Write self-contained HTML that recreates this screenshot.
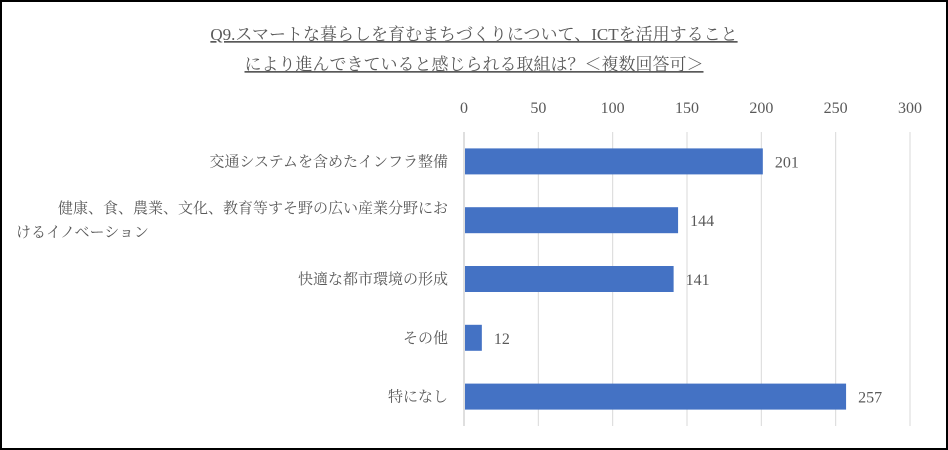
<!DOCTYPE html>
<html><head><meta charset="utf-8"><style>
body{margin:0;background:#fff}
#wrap{position:relative;width:944px;height:446px;border:2px solid #000;overflow:hidden}
svg text{font-family:"Liberation Serif","Noto Serif CJK SC",serif;fill:#595959}
</style></head><body>
<div id="wrap">
<svg id="c" width="944" height="446">
<text x="472" y="38" font-size="17" text-anchor="middle" text-decoration="underline">Q9.スマートな暮らしを育むまちづくりについて、ICTを活用すること</text>
<text x="472" y="68" font-size="17" text-anchor="middle" text-decoration="underline">により進んできていると感じられる取組は？＜複数回答可＞</text>
</svg></div>
<script>
const categories=[["交通システムを含めたインフラ整備"],["健康、食、農業、文化、教育等すそ野の広い産業分野にお","けるイノベーション"],["快適な都市環境の形成"],["その他"],["特になし"]];
const values=[201,144,141,12,257];
const ticks=[0,50,100,150,200,250,300];
const svg=document.getElementById('c');const NS='http://www.w3.org/2000/svg';
const x0=462,x1=908,yTop=130,yBot=424;
const xs=v=>x0+(v-300*0)/300*(x1-x0);
const band=(yBot-yTop)/categories.length;
function mk(t,a){const e=document.createElementNS(NS,t);for(const k in a)e.setAttribute(k,a[k]);svg.appendChild(e);return e;}
ticks.forEach(t=>{
 const g=mk('line',{x1:xs(t),x2:xs(t),y1:yTop,y2:yBot,stroke:'#d9d9d9','stroke-width':1});
 
 
 const l=mk('text',{x:xs(t),y:111,'font-size':16,'text-anchor':'middle'});l.textContent=t;
 
 
});
const ax=mk('line',{x1:x0,x2:x0,y1:yTop,y2:yBot,stroke:'#bfbfbf','stroke-width':1});


values.forEach((v,i)=>{
 const cy=yTop+band*(i+0.5);
 const r=mk('rect',{x:x0+1,y:cy-13,width:xs(v)-x0-1,height:26,fill:'#4472C4'});
 
 
 const vl=mk('text',{x:xs(v)+12,y:cy+6,'font-size':16});vl.textContent=v;
 
 
 const lines=categories[i];
 lines.forEach((s,j)=>{
  const t=mk('text',{x:446,y:cy+5+(j-(lines.length-1)/2)*24,'font-size':15,'text-anchor':'end'});
  if(j>0){t.setAttribute('text-anchor','start');t.setAttribute('x',14);}
  t.textContent=s;
  
  
 });
});
</script></body></html>
